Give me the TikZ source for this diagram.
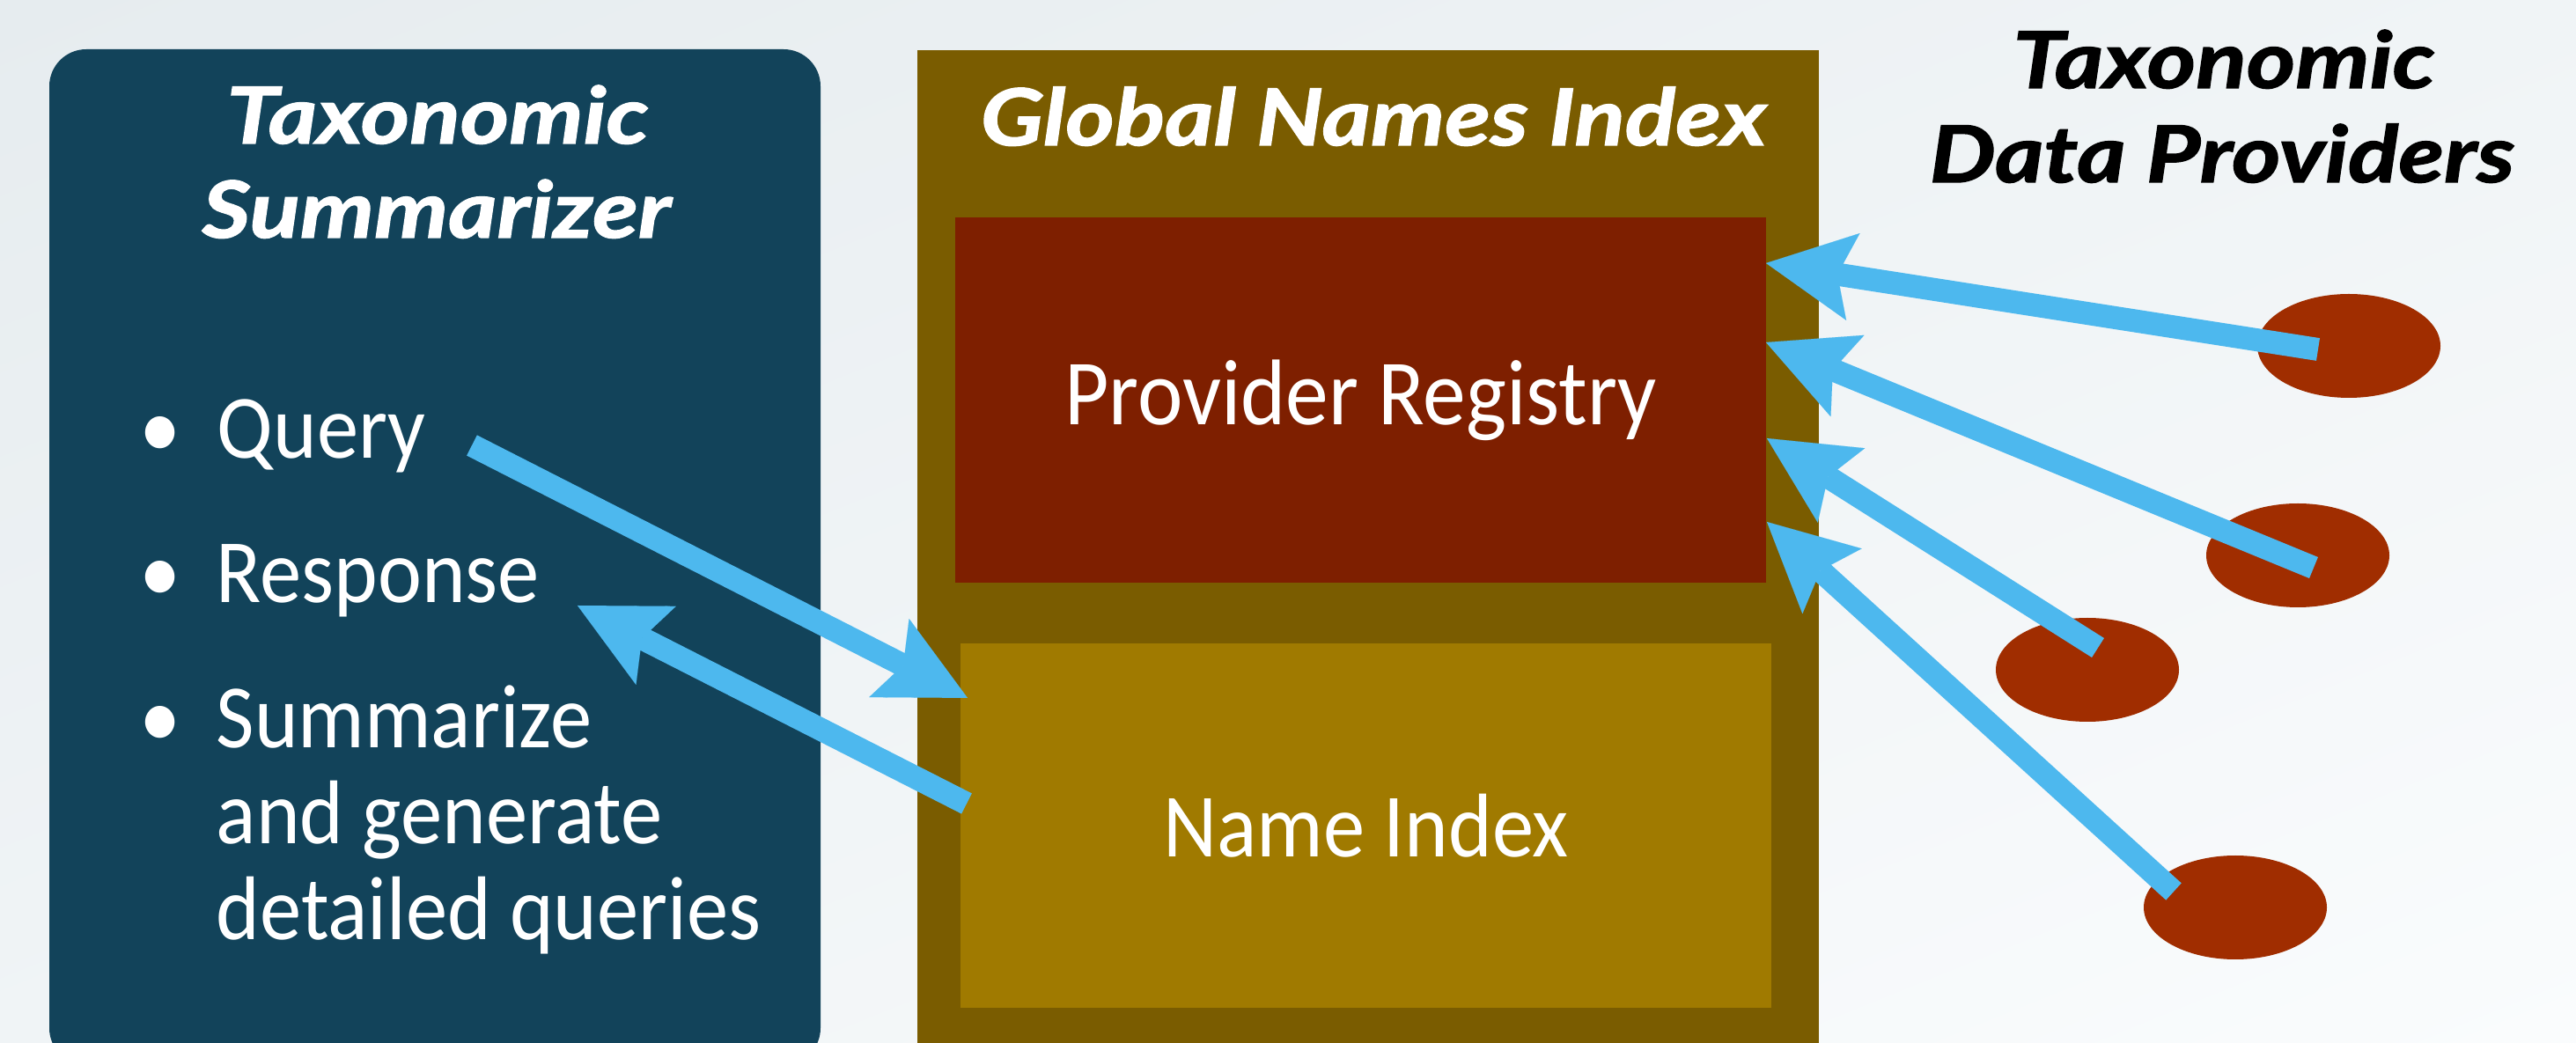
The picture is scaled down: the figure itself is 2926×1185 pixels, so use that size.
\documentclass[tikz,border=0pt]{standalone}
\usepackage{fontspec}
\setmainfont{Carlito}[FakeStretch=0.92]
\newfontfamily\titlefont{Lato}[FakeStretch=1.19, BoldItalicFeatures={FakeBold=1.6}]
\usetikzlibrary{arrows.meta,shapes.geometric,shadings}
\definecolor{bgA}{HTML}{E6ECEF}
\definecolor{bgM}{HTML}{F0F4F6}
\definecolor{bgB}{HTML}{FAFCFD}
\definecolor{summblue}{HTML}{12435A}
\definecolor{gniolive}{HTML}{7A5C00}
\definecolor{regred}{HTML}{7E1F00}
\definecolor{idxgold}{HTML}{A07A00}
\definecolor{provred}{HTML}{A02D00}
\definecolor{arrowblue}{HTML}{4DB8EE}
\begin{document}
\begin{tikzpicture}[x=0.25pt,y=-0.25pt,
  arr/.style={draw=arrowblue, line width=6.5pt,
    -{Stealth[length=25pt,width=25pt,inset=4.5pt,line width=0.01pt]}},
  ttl/.style={inner sep=0pt, anchor=base, font=\titlefont\bfseries\itshape\fontsize{22.3pt}{26pt}\selectfont},
  txt/.style={inner sep=0pt, anchor=base west, text=white, font=\fontsize{25.7pt}{27pt}\selectfont},
  blt/.style={inner sep=0pt, anchor=base, text=white, font=\fontsize{25.7pt}{27pt}\selectfont},
  prov/.style={ellipse, fill=provred, inner sep=0pt, minimum width=52pt, minimum height=29.5pt},
  boxlabel/.style={text=white, inner sep=0pt}]
\useasboundingbox (0,0) rectangle (2926,1185);
\shade[upper left=bgA, upper right=bgM, lower left=bgM, lower right=bgB] (0,0) rectangle (2926,1185);
\begin{scope}
\clip (0,0) rectangle (2926,1185);
% Taxonomic Summarizer panel
\fill[summblue, rounded corners=10.5pt] (56,56) rectangle (932,1210);
% Global Names Index panel
\fill[gniolive] (1042,57) rectangle (2066,1210);
\end{scope}
\node[fill=regred, minimum width=230.25pt, minimum height=103.75pt, inner sep=0pt] (reg) at (1545.5,454.5) {};
\node[fill=idxgold, minimum width=230.25pt, minimum height=103.5pt, inner sep=0pt] (idx) at (1551.5,938) {};
\node[boxlabel, font=\fontsize{26.5pt}{28pt}\selectfont] (regtxt) at (1545.5,454.5) {Provider Registry};
\node[boxlabel, font=\fontsize{25.7pt}{27pt}\selectfont] (idxtxt) at (1551.5,938) {Name Index};
% titles
\node[ttl, text=white] (st1) at (497,163) {Taxonomic};
\node[ttl, text=white] (st2) at (496,270) {Summarizer};
\node[ttl, text=white] (gt) at (1560,165) {Global Names Index};
\node[ttl, text=black] (pt1) at (2526,100) {Taxonomic};
\node[ttl, text=black] (pt2) at (2524,207) {Data Providers};
% bullets
\node[blt] (b1) at (182,521) {\textbullet};
\node[blt] (b2) at (182,685) {\textbullet};
\node[blt] (b3) at (182,850) {\textbullet};
\node[txt] (q) at (246,521) {Query};
\node[txt] (r) at (245,685) {Response};
\node[txt] (s1) at (245,850) {Summarize};
\node[txt] (s2) at (245,959) {and generate};
\node[txt] (s3) at (245,1068) {detailed queries};
% providers
\node[prov] (p1) at (2668,393) {};
\node[prov] (p2) at (2610,631) {};
\node[prov] (p3) at (2371,761) {};
\node[prov] (p4) at (2539,1031) {};
% connector ends
\coordinate (a1s) at (2633,397);
\coordinate (a1t) at (2006,299);
\coordinate (a2s) at (2628,645);
\coordinate (a2t) at (2006,389);
\coordinate (a3s) at (2383,736);
\coordinate (a3t) at (2007,498);
\coordinate (a4s) at (2469,1013);
\coordinate (a4t) at (2007,593);
\coordinate (qs) at (536,506);
\coordinate (qt) at (1099,793);
\coordinate (rs) at (1098,913);
\coordinate (rt) at (656,688);
\draw[arr] (a1s) -- (a1t);
\draw[arr] (a2s) -- (a2t);
\draw[arr] (a3s) -- (a3t);
\draw[arr] (a4s) -- (a4t);
\draw[arr] (qs) -- (qt);
\draw[arr] (rs) -- (rt);
\end{tikzpicture}
\end{document}
